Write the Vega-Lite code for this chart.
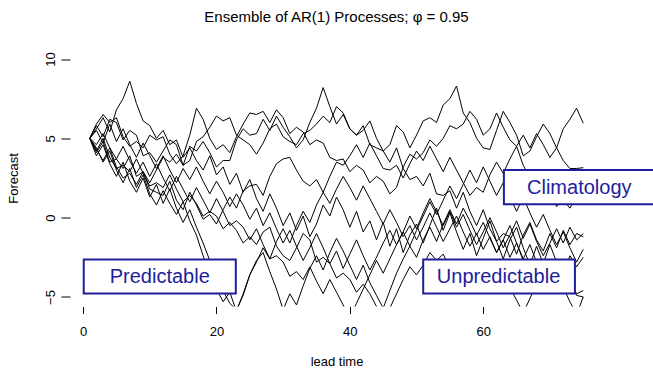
{
  "$schema": "https://vega.github.io/schema/vega-lite/v6.json",
  "width": 533,
  "height": 257,
  "autosize": {"type": "none"},
  "padding": {"left": 70, "top": 49.5, "right": 50, "bottom": 62.5},
  "background": "white",
  "config": {
    "view": {"stroke": null},
    "font": "Liberation Sans",
    "axis": {"grid": false, "domain": false, "tickColor": "black", "tickWidth": 1, "labelColor": "black", "labelFont": "Liberation Sans", "labelFontSize": 13, "titleFont": "Liberation Sans", "titleFontSize": 13, "titleFontWeight": "normal", "titleColor": "black"}
  },
  "title": {"text": "Ensemble of AR(1) Processes; φ = 0.95", "fontSize": 15, "fontWeight": "normal", "font": "Liberation Sans", "color": "black", "anchor": "middle", "baseline": "alphabetic", "offset": 12.5},
  "datasets": {
    "runs": [
{"r":1,"t":1,"y":5.0},{"r":1,"t":2,"y":5.6},{"r":1,"t":3,"y":6.3},{"r":1,"t":4,"y":5.4},{"r":1,"t":5,"y":6.8},{"r":1,"t":6,"y":7.5},{"r":1,"t":7,"y":8.6},{"r":1,"t":8,"y":7.2},{"r":1,"t":9,"y":6.1},{"r":1,"t":10,"y":5.8},{"r":1,"t":11,"y":5.0},{"r":1,"t":12,"y":5.5},{"r":1,"t":13,"y":4.6},{"r":1,"t":14,"y":4.9},{"r":1,"t":15,"y":3.8},{"r":1,"t":16,"y":4.4},{"r":1,"t":17,"y":3.6},{"r":1,"t":18,"y":3.0},{"r":1,"t":19,"y":3.9},{"r":1,"t":20,"y":2.7},{"r":1,"t":21,"y":3.2},{"r":1,"t":22,"y":2.1},{"r":1,"t":23,"y":2.8},{"r":1,"t":24,"y":1.6},{"r":1,"t":25,"y":2.4},{"r":1,"t":26,"y":1.2},{"r":1,"t":27,"y":0.4},{"r":1,"t":28,"y":1.5},{"r":1,"t":29,"y":0.6},{"r":1,"t":30,"y":-0.5},{"r":1,"t":31,"y":0.3},{"r":1,"t":32,"y":-0.8},{"r":1,"t":33,"y":0.1},{"r":1,"t":34,"y":-1.2},{"r":1,"t":35,"y":-0.4},{"r":1,"t":36,"y":0.8},{"r":1,"t":37,"y":0.1},{"r":1,"t":38,"y":1.3},{"r":1,"t":39,"y":0.5},{"r":1,"t":40,"y":-0.6},{"r":1,"t":41,"y":0.4},{"r":1,"t":42,"y":-0.9},{"r":1,"t":43,"y":-0.2},{"r":1,"t":44,"y":-1.4},{"r":1,"t":45,"y":-0.3},{"r":1,"t":46,"y":-1.8},{"r":1,"t":47,"y":-0.7},{"r":1,"t":48,"y":-2.2},{"r":1,"t":49,"y":-1.1},{"r":1,"t":50,"y":-0.4},{"r":1,"t":51,"y":-1.6},{"r":1,"t":52,"y":-0.5},{"r":1,"t":53,"y":0.6},{"r":1,"t":54,"y":-0.8},{"r":1,"t":55,"y":0.3},{"r":1,"t":56,"y":-0.9},{"r":1,"t":57,"y":-2.0},{"r":1,"t":58,"y":-1.0},{"r":1,"t":59,"y":-2.4},{"r":1,"t":60,"y":-1.3},{"r":1,"t":61,"y":-0.2},{"r":1,"t":62,"y":-1.5},{"r":1,"t":63,"y":-2.6},{"r":1,"t":64,"y":-1.4},{"r":1,"t":65,"y":-0.6},{"r":1,"t":66,"y":-1.9},{"r":1,"t":67,"y":-3.0},{"r":1,"t":68,"y":-1.8},{"r":1,"t":69,"y":-2.9},{"r":1,"t":70,"y":-1.7},{"r":1,"t":71,"y":-2.8},{"r":1,"t":72,"y":-3.6},{"r":1,"t":73,"y":-2.4},{"r":1,"t":74,"y":-3.1},{"r":1,"t":75,"y":-2.5},
{"r":2,"t":1,"y":5.0},{"r":2,"t":2,"y":4.1},{"r":2,"t":3,"y":4.8},{"r":2,"t":4,"y":3.5},{"r":2,"t":5,"y":3.7},{"r":2,"t":6,"y":3.1},{"r":2,"t":7,"y":3.9},{"r":2,"t":8,"y":2.6},{"r":2,"t":9,"y":2.9},{"r":2,"t":10,"y":2.2},{"r":2,"t":11,"y":3.0},{"r":2,"t":12,"y":3.8},{"r":2,"t":13,"y":3.5},{"r":2,"t":14,"y":4.0},{"r":2,"t":15,"y":3.3},{"r":2,"t":16,"y":4.5},{"r":2,"t":17,"y":4.2},{"r":2,"t":18,"y":4.8},{"r":2,"t":19,"y":4.1},{"r":2,"t":20,"y":3.2},{"r":2,"t":21,"y":3.6},{"r":2,"t":22,"y":3.6},{"r":2,"t":23,"y":4.9},{"r":2,"t":24,"y":5.6},{"r":2,"t":25,"y":5.2},{"r":2,"t":26,"y":5.3},{"r":2,"t":27,"y":6.2},{"r":2,"t":28,"y":5.5},{"r":2,"t":29,"y":6.4},{"r":2,"t":30,"y":5.7},{"r":2,"t":31,"y":5.1},{"r":2,"t":32,"y":4.4},{"r":2,"t":33,"y":4.9},{"r":2,"t":34,"y":6.0},{"r":2,"t":35,"y":6.9},{"r":2,"t":36,"y":8.2},{"r":2,"t":37,"y":7.0},{"r":2,"t":38,"y":5.9},{"r":2,"t":39,"y":6.5},{"r":2,"t":40,"y":5.6},{"r":2,"t":41,"y":5.2},{"r":2,"t":42,"y":5.8},{"r":2,"t":43,"y":4.6},{"r":2,"t":44,"y":4.4},{"r":2,"t":45,"y":4.2},{"r":2,"t":46,"y":3.5},{"r":2,"t":47,"y":4.4},{"r":2,"t":48,"y":3.1},{"r":2,"t":49,"y":2.4},{"r":2,"t":50,"y":2.6},{"r":2,"t":51,"y":2.0},{"r":2,"t":52,"y":2.8},{"r":2,"t":53,"y":1.5},{"r":2,"t":54,"y":1.4},{"r":2,"t":55,"y":1.7},{"r":2,"t":56,"y":0.6},{"r":2,"t":57,"y":1.6},{"r":2,"t":58,"y":0.4},{"r":2,"t":59,"y":-0.5},{"r":2,"t":60,"y":0.5},{"r":2,"t":61,"y":-0.7},{"r":2,"t":62,"y":-1.5},{"r":2,"t":63,"y":-1.0},{"r":2,"t":64,"y":-1.2},{"r":2,"t":65,"y":-2.3},{"r":2,"t":66,"y":-1.1},{"r":2,"t":67,"y":-0.3},{"r":2,"t":68,"y":-1.4},{"r":2,"t":69,"y":-2.1},{"r":2,"t":70,"y":-1.0},{"r":2,"t":71,"y":-1.9},{"r":2,"t":72,"y":-0.8},{"r":2,"t":73,"y":-1.7},{"r":2,"t":74,"y":-1.0},{"r":2,"t":75,"y":-1.2},
{"r":3,"t":1,"y":5.0},{"r":3,"t":2,"y":5.8},{"r":3,"t":3,"y":5.1},{"r":3,"t":4,"y":6.2},{"r":3,"t":5,"y":6.0},{"r":3,"t":6,"y":4.9},{"r":3,"t":7,"y":5.5},{"r":3,"t":8,"y":5.2},{"r":3,"t":9,"y":3.9},{"r":3,"t":10,"y":4.1},{"r":3,"t":11,"y":3.5},{"r":3,"t":12,"y":4.2},{"r":3,"t":13,"y":4.9},{"r":3,"t":14,"y":4.6},{"r":3,"t":15,"y":3.3},{"r":3,"t":16,"y":3.6},{"r":3,"t":17,"y":4.8},{"r":3,"t":18,"y":5.1},{"r":3,"t":19,"y":5.7},{"r":3,"t":20,"y":6.4},{"r":3,"t":21,"y":6.1},{"r":3,"t":22,"y":6.3},{"r":3,"t":23,"y":5.2},{"r":3,"t":24,"y":4.9},{"r":3,"t":25,"y":4.6},{"r":3,"t":26,"y":4.0},{"r":3,"t":27,"y":4.7},{"r":3,"t":28,"y":5.6},{"r":3,"t":29,"y":5.9},{"r":3,"t":30,"y":5.1},{"r":3,"t":31,"y":4.8},{"r":3,"t":32,"y":4.6},{"r":3,"t":33,"y":5.3},{"r":3,"t":34,"y":5.5},{"r":3,"t":35,"y":5.9},{"r":3,"t":36,"y":6.4},{"r":3,"t":37,"y":6.0},{"r":3,"t":38,"y":7.0},{"r":3,"t":39,"y":6.6},{"r":3,"t":40,"y":5.6},{"r":3,"t":41,"y":5.2},{"r":3,"t":42,"y":5.5},{"r":3,"t":43,"y":6.1},{"r":3,"t":44,"y":5.0},{"r":3,"t":45,"y":4.2},{"r":3,"t":46,"y":4.6},{"r":3,"t":47,"y":5.8},{"r":3,"t":48,"y":5.4},{"r":3,"t":49,"y":4.4},{"r":3,"t":50,"y":5.2},{"r":3,"t":51,"y":6.1},{"r":3,"t":52,"y":6.3},{"r":3,"t":53,"y":6.0},{"r":3,"t":54,"y":7.1},{"r":3,"t":55,"y":7.5},{"r":3,"t":56,"y":8.3},{"r":3,"t":57,"y":6.6},{"r":3,"t":58,"y":6.0},{"r":3,"t":59,"y":5.0},{"r":3,"t":60,"y":4.4},{"r":3,"t":61,"y":4.3},{"r":3,"t":62,"y":5.5},{"r":3,"t":63,"y":6.7},{"r":3,"t":64,"y":6.0},{"r":3,"t":65,"y":5.2},{"r":3,"t":66,"y":3.9},{"r":3,"t":67,"y":4.2},{"r":3,"t":68,"y":5.1},{"r":3,"t":69,"y":5.9},{"r":3,"t":70,"y":5.3},{"r":3,"t":71,"y":4.4},{"r":3,"t":72,"y":5.6},{"r":3,"t":73,"y":6.2},{"r":3,"t":74,"y":6.9},{"r":3,"t":75,"y":5.95},
{"r":4,"t":1,"y":5.0},{"r":4,"t":2,"y":4.3},{"r":4,"t":3,"y":3.6},{"r":4,"t":4,"y":4.4},{"r":4,"t":5,"y":3.2},{"r":4,"t":6,"y":2.5},{"r":4,"t":7,"y":2.8},{"r":4,"t":8,"y":2.1},{"r":4,"t":9,"y":2.9},{"r":4,"t":10,"y":1.8},{"r":4,"t":11,"y":1.6},{"r":4,"t":12,"y":1.4},{"r":4,"t":13,"y":2.3},{"r":4,"t":14,"y":1.1},{"r":4,"t":15,"y":0.5},{"r":4,"t":16,"y":1.6},{"r":4,"t":17,"y":0.8},{"r":4,"t":18,"y":-0.1},{"r":4,"t":19,"y":0.2},{"r":4,"t":20,"y":-0.4},{"r":4,"t":21,"y":0.5},{"r":4,"t":22,"y":1.3},{"r":4,"t":23,"y":0.6},{"r":4,"t":24,"y":1.7},{"r":4,"t":25,"y":2.0},{"r":4,"t":26,"y":2.1},{"r":4,"t":27,"y":1.4},{"r":4,"t":28,"y":2.6},{"r":4,"t":29,"y":3.4},{"r":4,"t":30,"y":3.7},{"r":4,"t":31,"y":3.8},{"r":4,"t":32,"y":3.0},{"r":4,"t":33,"y":2.3},{"r":4,"t":34,"y":2.0},{"r":4,"t":35,"y":2.4},{"r":4,"t":36,"y":1.6},{"r":4,"t":37,"y":2.6},{"r":4,"t":38,"y":3.5},{"r":4,"t":39,"y":3.3},{"r":4,"t":40,"y":3.9},{"r":4,"t":41,"y":4.6},{"r":4,"t":42,"y":3.8},{"r":4,"t":43,"y":4.7},{"r":4,"t":44,"y":3.9},{"r":4,"t":45,"y":3.1},{"r":4,"t":46,"y":3.0},{"r":4,"t":47,"y":3.3},{"r":4,"t":48,"y":2.5},{"r":4,"t":49,"y":3.4},{"r":4,"t":50,"y":4.2},{"r":4,"t":51,"y":3.6},{"r":4,"t":52,"y":4.5},{"r":4,"t":53,"y":3.7},{"r":4,"t":54,"y":2.9},{"r":4,"t":55,"y":3.8},{"r":4,"t":56,"y":3.0},{"r":4,"t":57,"y":2.2},{"r":4,"t":58,"y":1.4},{"r":4,"t":59,"y":1.9},{"r":4,"t":60,"y":1.6},{"r":4,"t":61,"y":2.7},{"r":4,"t":62,"y":3.5},{"r":4,"t":63,"y":2.8},{"r":4,"t":64,"y":3.7},{"r":4,"t":65,"y":4.5},{"r":4,"t":66,"y":5.2},{"r":4,"t":67,"y":4.4},{"r":4,"t":68,"y":5.3},{"r":4,"t":69,"y":4.6},{"r":4,"t":70,"y":3.8},{"r":4,"t":71,"y":4.4},{"r":4,"t":72,"y":3.6},{"r":4,"t":73,"y":3.1},{"r":4,"t":74,"y":3.1},{"r":4,"t":75,"y":3.15},
{"r":5,"t":1,"y":5.0},{"r":5,"t":2,"y":4.4},{"r":5,"t":3,"y":3.5},{"r":5,"t":4,"y":4.2},{"r":5,"t":5,"y":3.0},{"r":5,"t":6,"y":2.2},{"r":5,"t":7,"y":3.1},{"r":5,"t":8,"y":1.9},{"r":5,"t":9,"y":2.7},{"r":5,"t":10,"y":1.5},{"r":5,"t":11,"y":0.8},{"r":5,"t":12,"y":1.7},{"r":5,"t":13,"y":0.9},{"r":5,"t":14,"y":0.2},{"r":5,"t":15,"y":1.0},{"r":5,"t":16,"y":-0.2},{"r":5,"t":17,"y":-1.1},{"r":5,"t":18,"y":-2.4},{"r":5,"t":19,"y":-3.6},{"r":5,"t":20,"y":-4.5},{"r":5,"t":21,"y":-5.3},{"r":5,"t":22,"y":-4.7},{"r":5,"t":23,"y":-5.9},{"r":5,"t":24,"y":-4.8},{"r":5,"t":25,"y":-3.6},{"r":5,"t":26,"y":-2.8},{"r":5,"t":27,"y":-1.9},{"r":5,"t":28,"y":-2.6},{"r":5,"t":29,"y":-1.5},{"r":5,"t":30,"y":-0.7},{"r":5,"t":31,"y":-1.6},{"r":5,"t":32,"y":-0.5},{"r":5,"t":33,"y":0.4},{"r":5,"t":34,"y":-0.3},{"r":5,"t":35,"y":0.8},{"r":5,"t":36,"y":1.6},{"r":5,"t":37,"y":0.9},{"r":5,"t":38,"y":1.8},{"r":5,"t":39,"y":2.6},{"r":5,"t":40,"y":1.9},{"r":5,"t":41,"y":1.1},{"r":5,"t":42,"y":2.0},{"r":5,"t":43,"y":1.2},{"r":5,"t":44,"y":0.4},{"r":5,"t":45,"y":-0.4},{"r":5,"t":46,"y":0.5},{"r":5,"t":47,"y":-0.3},{"r":5,"t":48,"y":-1.2},{"r":5,"t":49,"y":-0.5},{"r":5,"t":50,"y":-1.4},{"r":5,"t":51,"y":-0.6},{"r":5,"t":52,"y":0.3},{"r":5,"t":53,"y":-0.6},{"r":5,"t":54,"y":-1.5},{"r":5,"t":55,"y":-0.7},{"r":5,"t":56,"y":0.1},{"r":5,"t":57,"y":-0.9},{"r":5,"t":58,"y":-1.8},{"r":5,"t":59,"y":-1.0},{"r":5,"t":60,"y":-2.0},{"r":5,"t":61,"y":-1.2},{"r":5,"t":62,"y":-2.2},{"r":5,"t":63,"y":-1.4},{"r":5,"t":64,"y":-2.5},{"r":5,"t":65,"y":-1.6},{"r":5,"t":66,"y":-2.7},{"r":5,"t":67,"y":-3.5},{"r":5,"t":68,"y":-2.6},{"r":5,"t":69,"y":-3.6},{"r":5,"t":70,"y":-2.8},{"r":5,"t":71,"y":-3.9},{"r":5,"t":72,"y":-3.1},{"r":5,"t":73,"y":-4.0},{"r":5,"t":74,"y":-4.8},{"r":5,"t":75,"y":-4.6},
{"r":6,"t":1,"y":5.0},{"r":6,"t":2,"y":3.9},{"r":6,"t":3,"y":4.6},{"r":6,"t":4,"y":3.4},{"r":6,"t":5,"y":2.6},{"r":6,"t":6,"y":3.5},{"r":6,"t":7,"y":2.3},{"r":6,"t":8,"y":1.6},{"r":6,"t":9,"y":2.5},{"r":6,"t":10,"y":1.3},{"r":6,"t":11,"y":2.1},{"r":6,"t":12,"y":0.9},{"r":6,"t":13,"y":1.8},{"r":6,"t":14,"y":0.6},{"r":6,"t":15,"y":-0.3},{"r":6,"t":16,"y":0.5},{"r":6,"t":17,"y":-0.6},{"r":6,"t":18,"y":-1.6},{"r":6,"t":19,"y":-2.7},{"r":6,"t":20,"y":-3.9},{"r":6,"t":21,"y":-4.6},{"r":6,"t":22,"y":-5.4},{"r":6,"t":23,"y":-5.8},{"r":6,"t":24,"y":-4.9},{"r":6,"t":25,"y":-3.6},{"r":6,"t":26,"y":-2.7},{"r":6,"t":27,"y":-2.2},{"r":6,"t":28,"y":-3.4},{"r":6,"t":29,"y":-4.5},{"r":6,"t":30,"y":-5.8},{"r":6,"t":31,"y":-4.8},{"r":6,"t":32,"y":-5.5},{"r":6,"t":33,"y":-4.3},{"r":6,"t":34,"y":-3.2},{"r":6,"t":35,"y":-2.4},{"r":6,"t":36,"y":-3.3},{"r":6,"t":37,"y":-2.2},{"r":6,"t":38,"y":-1.3},{"r":6,"t":39,"y":-2.1},{"r":6,"t":40,"y":-3.0},{"r":6,"t":41,"y":-3.9},{"r":6,"t":42,"y":-3.0},{"r":6,"t":43,"y":-4.1},{"r":6,"t":44,"y":-4.9},{"r":6,"t":45,"y":-5.7},{"r":6,"t":46,"y":-4.6},{"r":6,"t":47,"y":-3.5},{"r":6,"t":48,"y":-2.6},{"r":6,"t":49,"y":-1.8},{"r":6,"t":50,"y":-2.5},{"r":6,"t":51,"y":-1.4},{"r":6,"t":52,"y":-0.6},{"r":6,"t":53,"y":-1.5},{"r":6,"t":54,"y":-0.4},{"r":6,"t":55,"y":0.5},{"r":6,"t":56,"y":-0.4},{"r":6,"t":57,"y":0.6},{"r":6,"t":58,"y":-0.2},{"r":6,"t":59,"y":-1.1},{"r":6,"t":60,"y":-0.3},{"r":6,"t":61,"y":-1.3},{"r":6,"t":62,"y":-2.2},{"r":6,"t":63,"y":-1.4},{"r":6,"t":64,"y":-0.5},{"r":6,"t":65,"y":-1.6},{"r":6,"t":66,"y":-2.6},{"r":6,"t":67,"y":-1.7},{"r":6,"t":68,"y":-2.8},{"r":6,"t":69,"y":-3.7},{"r":6,"t":70,"y":-2.9},{"r":6,"t":71,"y":-3.8},{"r":6,"t":72,"y":-4.7},{"r":6,"t":73,"y":-3.9},{"r":6,"t":74,"y":-4.9},{"r":6,"t":75,"y":-5.0},
{"r":7,"t":1,"y":5.0},{"r":7,"t":2,"y":5.5},{"r":7,"t":3,"y":4.7},{"r":7,"t":4,"y":5.9},{"r":7,"t":5,"y":4.8},{"r":7,"t":6,"y":5.6},{"r":7,"t":7,"y":4.6},{"r":7,"t":8,"y":3.8},{"r":7,"t":9,"y":4.7},{"r":7,"t":10,"y":3.9},{"r":7,"t":11,"y":3.1},{"r":7,"t":12,"y":3.9},{"r":7,"t":13,"y":3.0},{"r":7,"t":14,"y":2.2},{"r":7,"t":15,"y":3.1},{"r":7,"t":16,"y":2.4},{"r":7,"t":17,"y":3.2},{"r":7,"t":18,"y":2.3},{"r":7,"t":19,"y":1.5},{"r":7,"t":20,"y":2.3},{"r":7,"t":21,"y":1.6},{"r":7,"t":22,"y":0.7},{"r":7,"t":23,"y":1.5},{"r":7,"t":24,"y":0.8},{"r":7,"t":25,"y":-0.1},{"r":7,"t":26,"y":0.6},{"r":7,"t":27,"y":-0.5},{"r":7,"t":28,"y":0.3},{"r":7,"t":29,"y":-0.7},{"r":7,"t":30,"y":-1.6},{"r":7,"t":31,"y":-0.8},{"r":7,"t":32,"y":-1.8},{"r":7,"t":33,"y":-2.7},{"r":7,"t":34,"y":-1.9},{"r":7,"t":35,"y":-1.0},{"r":7,"t":36,"y":-1.9},{"r":7,"t":37,"y":-2.9},{"r":7,"t":38,"y":-2.1},{"r":7,"t":39,"y":-3.2},{"r":7,"t":40,"y":-2.3},{"r":7,"t":41,"y":-1.4},{"r":7,"t":42,"y":-2.4},{"r":7,"t":43,"y":-3.3},{"r":7,"t":44,"y":-2.5},{"r":7,"t":45,"y":-1.6},{"r":7,"t":46,"y":-0.8},{"r":7,"t":47,"y":-1.7},{"r":7,"t":48,"y":-0.9},{"r":7,"t":49,"y":0.1},{"r":7,"t":50,"y":-0.7},{"r":7,"t":51,"y":0.3},{"r":7,"t":52,"y":1.2},{"r":7,"t":53,"y":0.4},{"r":7,"t":54,"y":-0.5},{"r":7,"t":55,"y":0.4},{"r":7,"t":56,"y":-0.6},{"r":7,"t":57,"y":0.2},{"r":7,"t":58,"y":-0.8},{"r":7,"t":59,"y":-1.7},{"r":7,"t":60,"y":-0.9},{"r":7,"t":61,"y":0.0},{"r":7,"t":62,"y":-0.9},{"r":7,"t":63,"y":-1.9},{"r":7,"t":64,"y":-1.1},{"r":7,"t":65,"y":-0.2},{"r":7,"t":66,"y":-1.3},{"r":7,"t":67,"y":-0.4},{"r":7,"t":68,"y":-1.5},{"r":7,"t":69,"y":-2.4},{"r":7,"t":70,"y":-1.6},{"r":7,"t":71,"y":-0.7},{"r":7,"t":72,"y":-1.6},{"r":7,"t":73,"y":-0.6},{"r":7,"t":74,"y":-1.4},{"r":7,"t":75,"y":-1.0},
{"r":8,"t":1,"y":5.0},{"r":8,"t":2,"y":4.6},{"r":8,"t":3,"y":5.3},{"r":8,"t":4,"y":4.4},{"r":8,"t":5,"y":3.7},{"r":8,"t":6,"y":4.5},{"r":8,"t":7,"y":3.6},{"r":8,"t":8,"y":2.8},{"r":8,"t":9,"y":3.5},{"r":8,"t":10,"y":2.6},{"r":8,"t":11,"y":3.4},{"r":8,"t":12,"y":2.5},{"r":8,"t":13,"y":1.7},{"r":8,"t":14,"y":2.6},{"r":8,"t":15,"y":1.8},{"r":8,"t":16,"y":1.0},{"r":8,"t":17,"y":1.9},{"r":8,"t":18,"y":1.1},{"r":8,"t":19,"y":0.3},{"r":8,"t":20,"y":1.2},{"r":8,"t":21,"y":0.4},{"r":8,"t":22,"y":-0.5},{"r":8,"t":23,"y":-0.2},{"r":8,"t":24,"y":-0.6},{"r":8,"t":25,"y":-1.4},{"r":8,"t":26,"y":-0.7},{"r":8,"t":27,"y":-1.7},{"r":8,"t":28,"y":-2.6},{"r":8,"t":29,"y":-2.4},{"r":8,"t":30,"y":-2.8},{"r":8,"t":31,"y":-3.7},{"r":8,"t":32,"y":-3.4},{"r":8,"t":33,"y":-3.9},{"r":8,"t":34,"y":-3.1},{"r":8,"t":35,"y":-4.0},{"r":8,"t":36,"y":-4.8},{"r":8,"t":37,"y":-3.9},{"r":8,"t":38,"y":-4.7},{"r":8,"t":39,"y":-5.5},{"r":8,"t":40,"y":-6.3},{"r":8,"t":41,"y":-5.4},{"r":8,"t":42,"y":-4.5},{"r":8,"t":43,"y":-3.6},{"r":8,"t":44,"y":-2.7},{"r":8,"t":45,"y":-3.5},{"r":8,"t":46,"y":-2.6},{"r":8,"t":47,"y":-1.7},{"r":8,"t":48,"y":-0.9},{"r":8,"t":49,"y":-1.8},{"r":8,"t":50,"y":-0.8},{"r":8,"t":51,"y":0.1},{"r":8,"t":52,"y":1.0},{"r":8,"t":53,"y":0.2},{"r":8,"t":54,"y":1.1},{"r":8,"t":55,"y":2.0},{"r":8,"t":56,"y":1.2},{"r":8,"t":57,"y":2.1},{"r":8,"t":58,"y":3.0},{"r":8,"t":59,"y":2.2},{"r":8,"t":60,"y":3.2},{"r":8,"t":61,"y":2.3},{"r":8,"t":62,"y":1.4},{"r":8,"t":63,"y":2.2},{"r":8,"t":64,"y":1.3},{"r":8,"t":65,"y":0.4},{"r":8,"t":66,"y":1.3},{"r":8,"t":67,"y":0.3},{"r":8,"t":68,"y":-0.6},{"r":8,"t":69,"y":0.2},{"r":8,"t":70,"y":-0.8},{"r":8,"t":71,"y":-1.7},{"r":8,"t":72,"y":-0.9},{"r":8,"t":73,"y":-1.9},{"r":8,"t":74,"y":-2.8},{"r":8,"t":75,"y":-2.0},
{"r":9,"t":1,"y":5.0},{"r":9,"t":2,"y":5.9},{"r":9,"t":3,"y":6.5},{"r":9,"t":4,"y":6.0},{"r":9,"t":5,"y":6.3},{"r":9,"t":6,"y":5.1},{"r":9,"t":7,"y":4.5},{"r":9,"t":8,"y":4.8},{"r":9,"t":9,"y":4.4},{"r":9,"t":10,"y":5.2},{"r":9,"t":11,"y":4.9},{"r":9,"t":12,"y":5.1},{"r":9,"t":13,"y":4.0},{"r":9,"t":14,"y":3.4},{"r":9,"t":15,"y":3.9},{"r":9,"t":16,"y":5.2},{"r":9,"t":17,"y":6.9},{"r":9,"t":18,"y":6.2},{"r":9,"t":19,"y":5.0},{"r":9,"t":20,"y":4.3},{"r":9,"t":21,"y":4.6},{"r":9,"t":22,"y":4.1},{"r":9,"t":23,"y":5.1},{"r":9,"t":24,"y":5.9},{"r":9,"t":25,"y":6.6},{"r":9,"t":26,"y":6.5},{"r":9,"t":27,"y":6.7},{"r":9,"t":28,"y":6.0},{"r":9,"t":29,"y":6.8},{"r":9,"t":30,"y":6.3},{"r":9,"t":31,"y":5.3},{"r":9,"t":32,"y":5.7},{"r":9,"t":33,"y":5.4},{"r":9,"t":34,"y":4.6},{"r":9,"t":35,"y":4.9},{"r":9,"t":36,"y":4.7},{"r":9,"t":37,"y":3.8},{"r":9,"t":38,"y":3.6},{"r":9,"t":39,"y":3.7},{"r":9,"t":40,"y":2.9},{"r":9,"t":41,"y":3.3},{"r":9,"t":42,"y":3.0},{"r":9,"t":43,"y":2.2},{"r":9,"t":44,"y":2.6},{"r":9,"t":45,"y":2.3},{"r":9,"t":46,"y":1.5},{"r":9,"t":47,"y":1.9},{"r":9,"t":48,"y":3.2},{"r":9,"t":49,"y":4.0},{"r":9,"t":50,"y":3.7},{"r":9,"t":51,"y":4.1},{"r":9,"t":52,"y":4.9},{"r":9,"t":53,"y":4.5},{"r":9,"t":54,"y":5.0},{"r":9,"t":55,"y":5.8},{"r":9,"t":56,"y":5.6},{"r":9,"t":57,"y":5.9},{"r":9,"t":58,"y":6.7},{"r":9,"t":59,"y":6.2},{"r":9,"t":60,"y":5.2},{"r":9,"t":61,"y":5.6},{"r":9,"t":62,"y":6.6},{"r":9,"t":63,"y":5.7},{"r":9,"t":64,"y":4.9},{"r":9,"t":65,"y":4.5},{"r":9,"t":66,"y":3.3},{"r":9,"t":67,"y":2.5},{"r":9,"t":68,"y":1.6},{"r":9,"t":69,"y":2.0},{"r":9,"t":70,"y":1.5},{"r":9,"t":71,"y":0.7},{"r":9,"t":72,"y":1.1},{"r":9,"t":73,"y":0.6},{"r":9,"t":74,"y":1.4},{"r":9,"t":75,"y":0.8},
{"r":10,"t":1,"y":5.0},{"r":10,"t":2,"y":4.2},{"r":10,"t":3,"y":5.0},{"r":10,"t":4,"y":3.8},{"r":10,"t":5,"y":3.1},{"r":10,"t":6,"y":3.3},{"r":10,"t":7,"y":2.9},{"r":10,"t":8,"y":3.7},{"r":10,"t":9,"y":2.8},{"r":10,"t":10,"y":2.0},{"r":10,"t":11,"y":2.2},{"r":10,"t":12,"y":1.9},{"r":10,"t":13,"y":2.7},{"r":10,"t":14,"y":1.8},{"r":10,"t":15,"y":1.0},{"r":10,"t":16,"y":1.4},{"r":10,"t":17,"y":0.9},{"r":10,"t":18,"y":0.1},{"r":10,"t":19,"y":0.4},{"r":10,"t":20,"y":0.1},{"r":10,"t":21,"y":-0.7},{"r":10,"t":22,"y":-0.3},{"r":10,"t":23,"y":-0.8},{"r":10,"t":24,"y":-1.6},{"r":10,"t":25,"y":-1.2},{"r":10,"t":26,"y":-1.7},{"r":10,"t":27,"y":-0.9},{"r":10,"t":28,"y":-0.6},{"r":10,"t":29,"y":-1.8},{"r":10,"t":30,"y":-2.4},{"r":10,"t":31,"y":-2.7},{"r":10,"t":32,"y":-1.9},{"r":10,"t":33,"y":-1.0},{"r":10,"t":34,"y":-1.4},{"r":10,"t":35,"y":-2.8},{"r":10,"t":36,"y":-2.5},{"r":10,"t":37,"y":-2.9},{"r":10,"t":38,"y":-3.8},{"r":10,"t":39,"y":-3.5},{"r":10,"t":40,"y":-3.9},{"r":10,"t":41,"y":-4.7},{"r":10,"t":42,"y":-4.2},{"r":10,"t":43,"y":-4.8},{"r":10,"t":44,"y":-5.6},{"r":10,"t":45,"y":-6.2},{"r":10,"t":46,"y":-5.7},{"r":10,"t":47,"y":-4.8},{"r":10,"t":48,"y":-3.9},{"r":10,"t":49,"y":-3.1},{"r":10,"t":50,"y":-3.6},{"r":10,"t":51,"y":-3.0},{"r":10,"t":52,"y":-2.2},{"r":10,"t":53,"y":-2.7},{"r":10,"t":54,"y":-2.3},{"r":10,"t":55,"y":-3.2},{"r":10,"t":56,"y":-2.9},{"r":10,"t":57,"y":-3.3},{"r":10,"t":58,"y":-4.1},{"r":10,"t":59,"y":-3.8},{"r":10,"t":60,"y":-4.2},{"r":10,"t":61,"y":-3.4},{"r":10,"t":62,"y":-3.7},{"r":10,"t":63,"y":-3.5},{"r":10,"t":64,"y":-4.4},{"r":10,"t":65,"y":-5.2},{"r":10,"t":66,"y":-6.0},{"r":10,"t":67,"y":-5.1},{"r":10,"t":68,"y":-4.2},{"r":10,"t":69,"y":-3.4},{"r":10,"t":70,"y":-4.3},{"r":10,"t":71,"y":-3.5},{"r":10,"t":72,"y":-4.4},{"r":10,"t":73,"y":-5.3},{"r":10,"t":74,"y":-6.1},{"r":10,"t":75,"y":-5.0}
    ],
    "boxes": [
      {"label": "Predictable", "x1": 0.1, "x2": 22.9, "y1": -4.78, "y2": -2.64, "tx": 11.5, "ty": -3.73},
      {"label": "Unpredictable", "x1": 51.0, "x2": 73.75, "y1": -4.78, "y2": -2.64, "tx": 62.3, "ty": -3.73},
      {"label": "Climatology", "x1": 63.1, "x2": 85.8, "y1": 0.85, "y2": 3.0, "tx": 74.4, "ty": 1.86}
    ]
  },
  "layer": [
    {
      "data": {"name": "runs"},
      "mark": {"type": "line", "color": "black", "strokeWidth": 1, "clip": true},
      "encoding": {
        "x": {"field": "t", "type": "quantitative", "scale": {"domain": [-1.96, 77.96], "nice": false, "zero": false},
              "axis": {"values": [0, 20, 40, 60], "tickSize": 7, "labelPadding": 12, "title": "lead time", "titlePadding": 17}},
        "y": {"field": "y", "type": "quantitative", "scale": {"domain": [-5.6, 10.6], "nice": false, "zero": false},
              "axis": {"values": [-5, 0, 5, 10], "tickSize": 9, "labelAngle": -90, "labelPadding": 4, "title": "Forecast", "titlePadding": 24}},
        "detail": {"field": "r", "type": "nominal"}
      }
    },
    {
      "mark": {"type": "rule", "color": "black", "strokeWidth": 1},
      "encoding": {"x": {"datum": 0}, "x2": {"datum": 60}, "y": {"datum": -5.6}}
    },
    {
      "mark": {"type": "rule", "color": "black", "strokeWidth": 1},
      "encoding": {"x": {"datum": -1.96}, "y": {"datum": -5}, "y2": {"datum": 10}}
    },
    {
      "mark": {"type": "rule", "color": "black", "strokeWidth": 1},
      "encoding": {"x": {"datum": 78.66}, "y": {"datum": -2.8}, "y2": {"datum": 6.6}}
    },
    {
      "mark": {"type": "point", "shape": "M0,0L-0.8,2L0.8,2Z", "size": 100, "filled": true, "color": "black", "opacity": 1},
      "encoding": {"x": {"datum": 78.66}, "y": {"datum": 7.11}}
    },
    {
      "mark": {"type": "point", "shape": "M0,0L-0.8,-2L0.8,-2Z", "size": 100, "filled": true, "color": "black", "opacity": 1},
      "encoding": {"x": {"datum": 78.66}, "y": {"datum": -3.26}}
    },
    {
      "data": {"name": "boxes"},
      "mark": {"type": "rect", "fill": "white", "stroke": "#1e1e9c", "strokeWidth": 2},
      "encoding": {
        "x": {"field": "x1", "type": "quantitative"}, "x2": {"field": "x2"},
        "y": {"field": "y1", "type": "quantitative"}, "y2": {"field": "y2"}
      }
    },
    {
      "data": {"name": "boxes"},
      "mark": {"type": "text", "color": "#1e1e9c", "fontSize": 20, "font": "Liberation Sans", "align": "center", "baseline": "middle"},
      "encoding": {
        "x": {"field": "tx", "type": "quantitative"},
        "y": {"field": "ty", "type": "quantitative"},
        "text": {"field": "label"}
      }
    }
  ]
}
